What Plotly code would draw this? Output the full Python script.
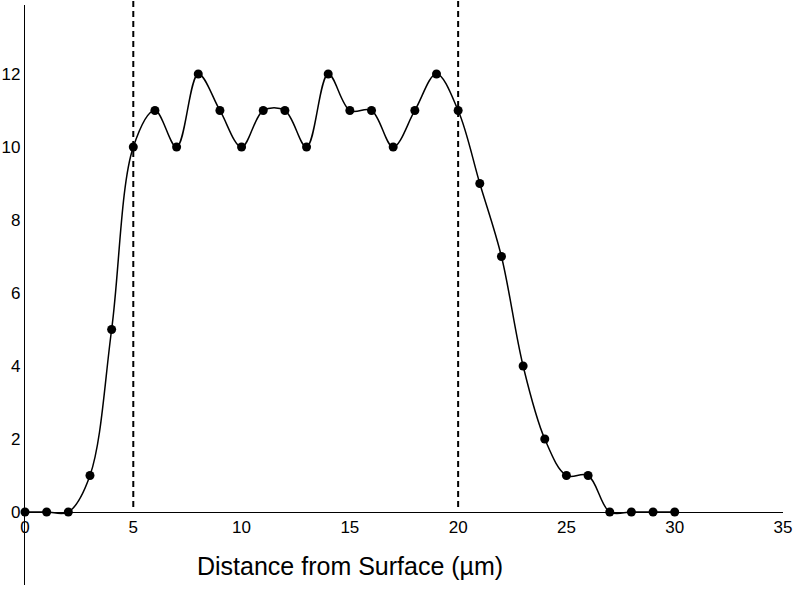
import plotly.graph_objects as go

distance = [0, 1, 2, 3, 4, 5, 6, 7, 8, 9, 10, 11, 12, 13, 14, 15, 16, 17, 18, 19, 20,
            21, 22, 23, 24, 25, 26, 27, 28, 29, 30]
values = [0, 0, 0, 1, 5, 10, 11, 10, 12, 11, 10, 11, 11, 10, 12, 11, 11, 10, 11, 12, 11,
          9, 7, 4, 2, 1, 1, 0, 0, 0, 0]
boundaries = [5, 20]
x_ticks = [0, 5, 10, 15, 20, 25, 30, 35]
y_ticks = [-2, 0, 2, 4, 6, 8, 10, 12]
x_title = "Distance from Surface (\u00b5m)"

W, H = 793, 592
ML, MR, MT, MB = 25, 10, 5, 7
PW, PH = W - ML - MR, H - MT - MB

y_min, y_max = -2, 13.89
zero_pos = (0 - y_min) / (y_max - y_min)

fig = go.Figure()
fig.add_trace(go.Scatter(
    x=distance, y=values, mode="lines+markers",
    line=dict(color="black", width=1.5, shape="spline", smoothing=1.0),
    marker=dict(color="black", size=9),
    showlegend=False, cliponaxis=False,
))

for b in boundaries:
    fig.add_shape(type="line", xref="x", yref="paper", x0=b, x1=b,
                  y0=zero_pos + 5 / PH, y1=1 + MT / PH,
                  line=dict(color="black", width=2, dash="6px,4px"), layer="above")

fig.add_annotation(text=x_title, xref="paper", yref="paper",
                   x=(350 - ML) / PW, y=(H - MB - 566) / PH,
                   showarrow=False, font=dict(size=25, color="black"),
                   xanchor="center", yanchor="middle")

fig.update_layout(
    width=W, height=H,
    margin=dict(l=ML, r=MR, t=MT, b=MB),
    paper_bgcolor="white", plot_bgcolor="white",
    font=dict(family="Liberation Sans, Arial, sans-serif", color="black", size=16),
    xaxis=dict(range=[0, 35], tickvals=x_ticks, showgrid=False, zeroline=False,
               showline=True, linecolor="black", linewidth=1.2, anchor="free", position=zero_pos,
               ticks="", tickfont=dict(size=17), automargin=False),
    yaxis=dict(range=[y_min, y_max], tickvals=y_ticks, showgrid=False, zeroline=False,
               showline=True, linecolor="black", linewidth=1.2, ticks="",
               tickfont=dict(size=17), automargin=False),
)

fig.write_html("out.html", config={"displayModeBar": False},
               post_script="document.body.style.margin='0';document.body.style.overflow='hidden';")
